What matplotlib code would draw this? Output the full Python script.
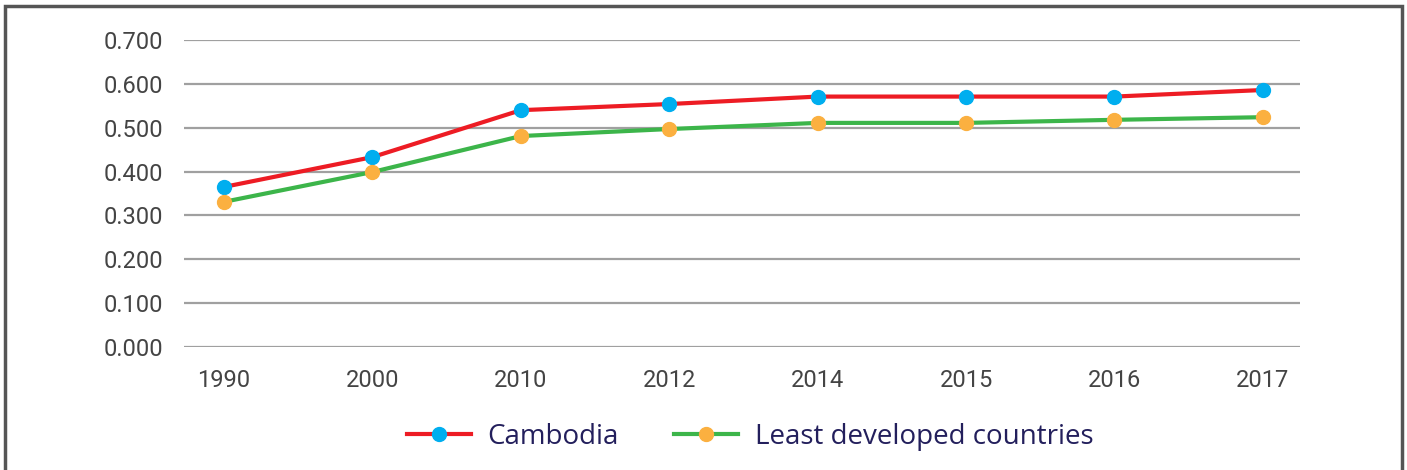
import matplotlib.pyplot as plt
from matplotlib.patches import Rectangle

years = ['1990', '2000', '2010', '2012', '2014', '2015', '2016', '2017']
cambodia = [0.365, 0.433, 0.540, 0.554, 0.571, 0.571, 0.571, 0.586]
ldc = [0.331, 0.399, 0.481, 0.497, 0.511, 0.511, 0.518, 0.524]
yticks = [0.0, 0.1, 0.2, 0.3, 0.4, 0.5, 0.6, 0.7]

fig = plt.figure(figsize=(14.07, 4.70), dpi=100)
ax = fig.add_axes([184 / 1407, 1 - 347 / 470, (1300 - 184) / 1407, 307 / 470])

x = range(len(years))
ax.plot(x, cambodia, color='#ed1c24', lw=3, marker='o', ms=10,
        mfc='#00aeef', mec='#00aeef', label='Cambodia', zorder=3)
ax.plot(x, ldc, color='#3cb54a', lw=3, marker='o', ms=10,
        mfc='#fbb040', mec='#fbb040', label='Least developed countries', zorder=3)

ax.set_xlim(-0.27, len(years) - 0.75)
ax.set_ylim(0, 0.7)
ax.set_yticks(yticks)
ax.set_yticklabels(['%.3f' % v for v in yticks])
ax.set_xticks(list(x))
ax.set_xticklabels(years)
ax.grid(axis='y', color='#a0a0a0', lw=1.6)
ax.set_axisbelow(True)
for s in ax.spines.values():
    s.set_visible(False)
ax.tick_params(length=0, labelsize=17, labelcolor='#444444')
ax.tick_params(axis='y', pad=15)
ax.tick_params(axis='x', pad=16)
for t in ax.get_xticklabels() + ax.get_yticklabels():
    t.set_fontfamily('Roboto')

leg = fig.legend(loc='center', bbox_to_anchor=(750 / 1407, 1 - 437 / 470),
                 ncol=2, frameon=False, handlelength=2.3, handletextpad=0.6,
                 columnspacing=2.0, prop={'family': 'Open Sans', 'size': 20})
for t in leg.get_texts():
    t.set_color('#231f5c')

fig.add_artist(Rectangle((5 / 1407, -0.1), 1397 / 1407, 1.1 - 6 / 470,
                         transform=fig.transFigure, fill=False,
                         ec='#555555', lw=2.5, clip_on=False))

fig.savefig('out.png', dpi=100)
